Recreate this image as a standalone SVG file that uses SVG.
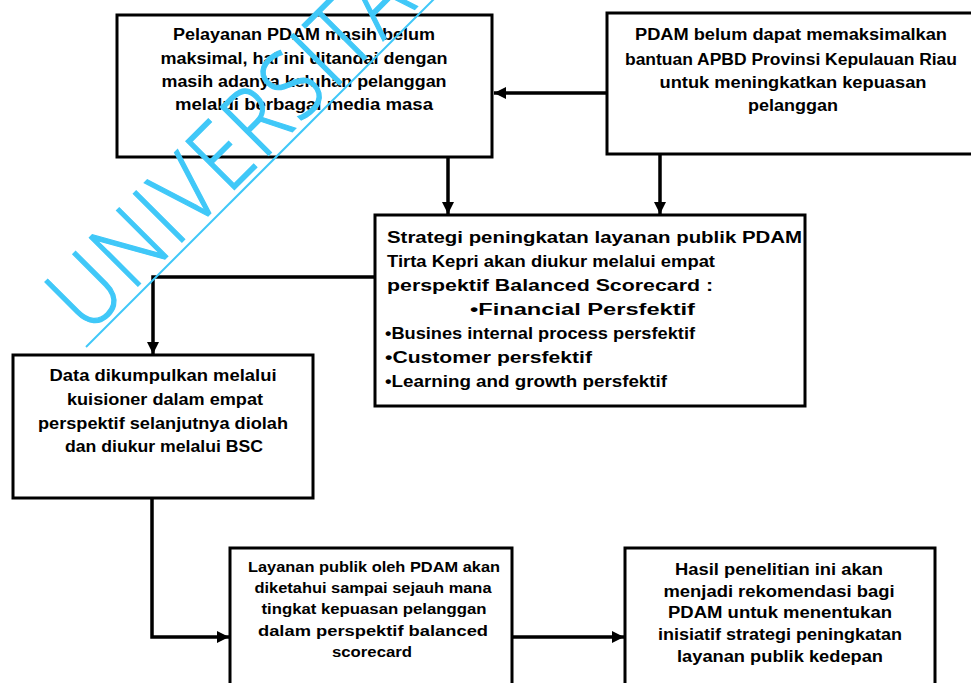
<svg xmlns="http://www.w3.org/2000/svg" width="971" height="683" viewBox="0 0 971 683">
<style>
.box{fill:#fff;stroke:#000;stroke-width:3}
.t{font-family:"Liberation Sans",Arial,sans-serif;font-weight:bold;font-size:16px;fill:#000}
.s{font-size:14px}
.c{text-anchor:middle}
.con{fill:none;stroke:#000;stroke-width:3.5}
.wm{font-family:"Open Sans","Liberation Sans",sans-serif;font-weight:300;font-size:96px;letter-spacing:4px;fill:#40c8f8;stroke:#40c8f8;stroke-width:1.3}
</style>
<defs>
<marker id="ah" markerUnits="userSpaceOnUse" markerWidth="14" markerHeight="14" refX="12" refY="6" orient="auto">
<path d="M0,0 L12,6 L0,12 Z" fill="#000"/>
</marker>
</defs>
<rect width="971" height="683" fill="#fff"/>
<g id="connectors">
<line class="con" x1="607" y1="93" x2="494" y2="93" marker-end="url(#ah)"/>
<line class="con" x1="448" y1="157" x2="448" y2="214" marker-end="url(#ah)"/>
<line class="con" x1="660" y1="155" x2="660" y2="214" marker-end="url(#ah)"/>
<polyline class="con" points="375,277 153,277 153,354" marker-end="url(#ah)"/>
<polyline class="con" points="152,498 152,637 229,637" marker-end="url(#ah)"/>
<line class="con" x1="512" y1="637" x2="624" y2="637" marker-end="url(#ah)"/>
</g>
<g id="node-pelayanan">
<rect class="box" x="117" y="15" width="375" height="142"/>
<text class="t c" x="304" y="40" textLength="262" lengthAdjust="spacingAndGlyphs">Pelayanan PDAM masih belum</text>
<text class="t c" x="304" y="64" textLength="287" lengthAdjust="spacingAndGlyphs">maksimal, hal ini ditandai dengan</text>
<text class="t c" x="304" y="87" textLength="285" lengthAdjust="spacingAndGlyphs">masih adanya keluhan pelanggan</text>
<text class="t c" x="304" y="110" textLength="258" lengthAdjust="spacingAndGlyphs">melalui berbagai  media masa</text>
</g>
<g id="node-apbd">
<rect class="box" x="607" y="13" width="370" height="141"/>
<text class="t c" x="791" y="40" textLength="312" lengthAdjust="spacingAndGlyphs">PDAM belum dapat  memaksimalkan</text>
<text class="t c" x="791" y="65" textLength="332" lengthAdjust="spacingAndGlyphs">bantuan APBD Provinsi Kepulauan Riau</text>
<text class="t c" x="793" y="88" textLength="267" lengthAdjust="spacingAndGlyphs">untuk meningkatkan kepuasan</text>
<text class="t c" x="793" y="111" textLength="90" lengthAdjust="spacingAndGlyphs">pelanggan</text>
</g>
<g id="node-strategi">
<rect class="box" x="375" y="215" width="430" height="191"/>
<text class="t" x="387" y="243" textLength="415" lengthAdjust="spacingAndGlyphs">Strategi peningkatan layanan publik PDAM</text>
<text class="t" x="387" y="267" textLength="328" lengthAdjust="spacingAndGlyphs">Tirta Kepri  akan diukur melalui empat</text>
<text class="t" x="387" y="291" textLength="326" lengthAdjust="spacingAndGlyphs">perspektif Balanced Scorecard  :</text>
<text class="t" x="470" y="315" textLength="225" lengthAdjust="spacingAndGlyphs">•Financial Persfektif</text>
<text class="t" x="385" y="339" textLength="310" lengthAdjust="spacingAndGlyphs">•Busines internal process persfektif</text>
<text class="t" x="385" y="363" textLength="207" lengthAdjust="spacingAndGlyphs">•Customer persfektif</text>
<text class="t" x="385" y="387" textLength="282" lengthAdjust="spacingAndGlyphs">•Learning and growth persfektif</text>
</g>
<g id="node-data">
<rect class="box" x="13" y="355" width="300" height="143"/>
<text class="t c" x="163" y="381" textLength="227" lengthAdjust="spacingAndGlyphs">Data dikumpulkan melalui</text>
<text class="t c" x="165" y="405" textLength="196" lengthAdjust="spacingAndGlyphs">kuisioner dalam empat</text>
<text class="t c" x="163" y="429" textLength="250" lengthAdjust="spacingAndGlyphs">perspektif selanjutnya diolah</text>
<text class="t c" x="164" y="452" textLength="198" lengthAdjust="spacingAndGlyphs">dan diukur melalui BSC</text>
</g>
<g id="node-layanan">
<rect class="box" x="230" y="548" width="282" height="145"/>
<text class="t s c" x="374" y="572" textLength="252" lengthAdjust="spacingAndGlyphs">Layanan publik oleh  PDAM akan</text>
<text class="t s c" x="373" y="593" textLength="237" lengthAdjust="spacingAndGlyphs">diketahui sampai sejauh mana</text>
<text class="t s c" x="374" y="614" textLength="225" lengthAdjust="spacingAndGlyphs">tingkat kepuasan  pelanggan</text>
<text class="t s c" x="373" y="636" textLength="230" lengthAdjust="spacingAndGlyphs">dalam perspektif  balanced</text>
<text class="t s c" x="372" y="657" textLength="80" lengthAdjust="spacingAndGlyphs">scorecard</text>
</g>
<g id="node-hasil">
<rect class="box" x="625" y="548" width="310" height="145"/>
<text class="t c" x="779" y="575" textLength="208" lengthAdjust="spacingAndGlyphs">Hasil penelitian ini akan</text>
<text class="t c" x="779" y="597" textLength="231" lengthAdjust="spacingAndGlyphs">menjadi rekomendasi bagi</text>
<text class="t c" x="780" y="618" textLength="224" lengthAdjust="spacingAndGlyphs">PDAM untuk menentukan</text>
<text class="t c" x="780" y="640" textLength="244" lengthAdjust="spacingAndGlyphs">inisiatif strategi peningkatan</text>
<text class="t c" x="780" y="662" textLength="206" lengthAdjust="spacingAndGlyphs">layanan publik kedepan</text>
</g>
<g id="watermark">
<line x1="86" y1="347" x2="440" y2="-7" stroke="#40c8f8" stroke-width="2"/>
<text class="wm" transform="translate(88,336) rotate(-45) scale(0.85,1)">UNIVERSITA</text>
</g>
</svg>
